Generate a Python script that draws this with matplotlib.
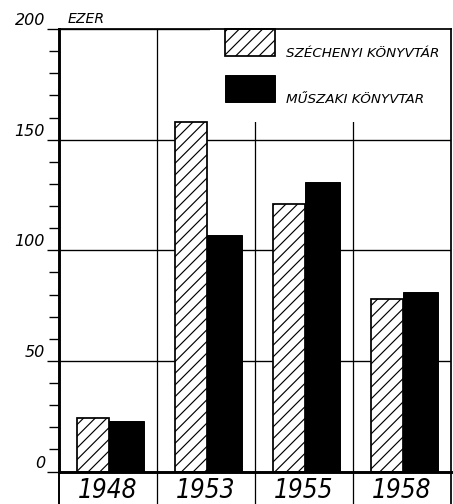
import matplotlib
matplotlib.use("Agg")
import matplotlib.pyplot as plt
from matplotlib.ticker import MultipleLocator
from matplotlib.legend_handler import HandlerPatch, update_from_first_child
from matplotlib.container import BarContainer
from matplotlib.patches import Rectangle
import numpy as np

years = ["1948", "1953", "1955", "1958"]
szechenyi = [24, 158, 121, 78]
muszaki = [23, 107, 131, 81]
y_major = [0, 50, 100, 150, 200]
y_labels = ["0", "50", "100", "150", "200"]
label_szech = "SZÉCHENYI KÖNYVTÁR"
label_musz = "MŰSZAKI KÖNYVTAR"
unit_label = "EZER"

DPI = 70
def pt(px):
    return px * 72.0 / DPI

plt.rcParams['hatch.linewidth'] = 1.2
plt.rcParams['font.family'] = ['DejaVu Sans']

fig = plt.figure(figsize=(453 / DPI, 504 / DPI), dpi=DPI)
fig.patch.set_facecolor('white')
W, H = 453.0, 504.0
L, R, B, T = 59, 451, 471.5, 29
ax = fig.add_axes([L / W, 1 - B / H, (R - L) / W, (B - T) / H])
ax.set_axisbelow(True)

x = np.arange(len(years))
ax.bar(x - 0.32, szechenyi, width=0.33, align='edge', facecolor='white',
       edgecolor='black', hatch='//', linewidth=1.8, label=label_szech, zorder=2)
ax.bar(x + 0.01, muszaki, width=0.36, align='edge', color='black',
       edgecolor='black', linewidth=1.0, label=label_musz, zorder=2)

ax.set_xlim(-0.5, len(years) - 0.5)
ax.set_ylim(0, 200)

# y ticks
ax.set_yticks(y_major)
ax.set_yticklabels([])
ax.yaxis.set_minor_locator(MultipleLocator(10))
ax.tick_params(axis='y', which='major', direction='out', length=12, width=1.4, color='black')
ax.tick_params(axis='y', which='minor', direction='out', length=10, width=1.4, color='black')
for v, lab in zip(y_major, y_labels):
    ax.annotate(lab, xy=(0, v), xycoords=('axes fraction', 'data'),
                xytext=(-14, 1), textcoords='offset pixels', ha='right', va='bottom',
                fontstyle='italic', fontsize=pt(16), color='black', annotation_clip=False)
ax.annotate(unit_label, xy=(0, 200), xycoords=('axes fraction', 'data'),
            xytext=(9, 3), textcoords='offset pixels', ha='left', va='bottom',
            fontstyle='italic', fontsize=pt(14), color='black', annotation_clip=False)

# x ticks
ax.set_xticks(x)
ax.set_xticklabels(years, fontfamily='DejaVu Sans', fontstretch='condensed',
                   fontstyle='italic', fontsize=pt(26))
ax.tick_params(axis='x', length=0, pad=pt(6))

# grid / frame lines
ax.grid(axis='y', which='major', color='black', linewidth=1.4)
for s in np.arange(len(years) - 1) + 0.5:
    ax.axvline(s, ymin=-0.1, ymax=1, color='black', linewidth=1.3, clip_on=False, zorder=0.6)
ax.axvline(-0.5, ymin=-0.1, ymax=0, color='black', linewidth=2, clip_on=False, zorder=7)
ax.axvline(len(years) - 0.5, ymin=-0.1, ymax=1, color='black', linewidth=1.8,
           clip_on=False, zorder=7)
ax.axhline(200, color='black', linewidth=1.8, clip_on=False, zorder=7)

for name, sp in ax.spines.items():
    sp.set_color('black')
ax.spines['left'].set_linewidth(3)
ax.spines['bottom'].set_linewidth(3)
ax.spines['top'].set_visible(False)
ax.spines['right'].set_visible(False)


def raised_patch(legend, orig_handle, xdescent, ydescent, width, height, fontsize):
    # legend key: box sitting just above the text baseline
    return Rectangle(xy=(-xdescent, pt(1)), width=width, height=pt(27))


FS = 13.5
leg = ax.legend(loc='upper left', bbox_to_anchor=(0.385, 1.0), borderaxespad=0,
                borderpad=1.11, frameon=True, facecolor='white', edgecolor='none',
                framealpha=1, fancybox=False, handlelength=3.7, handleheight=1.5,
                labelspacing=2.22, handletextpad=0.8,
                handler_map={BarContainer: HandlerPatch(patch_func=raised_patch,
                                                        update_func=update_from_first_child)},
                prop=dict(style='italic', size=pt(FS)))
leg.set_zorder(5)

fig.savefig('out.png', dpi=DPI, facecolor='white')
